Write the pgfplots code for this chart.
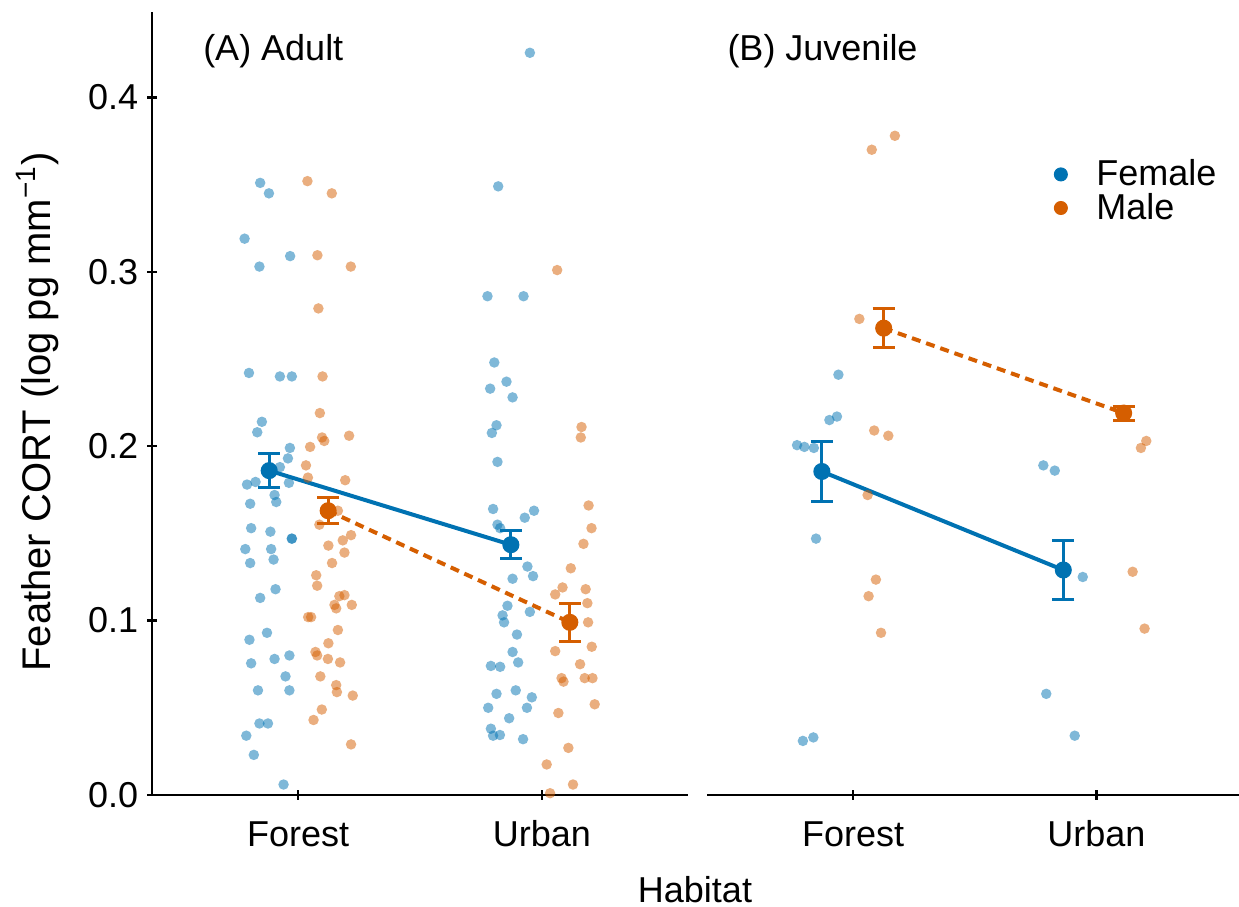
\documentclass[border=0pt]{standalone}
\usepackage{fontspec}
\setmainfont{Liberation Sans}
\usepackage{pgfplots}
\pgfplotsset{compat=1.18}
\definecolor{cblue}{HTML}{0072B2}
\definecolor{corange}{HTML}{D55E00}
\begin{document}
\begin{tikzpicture}[font=\fontsize{14.4}{17}\selectfont]
\useasboundingbox (0,0) rectangle (495.6pt,362.8pt);
\pgfplotsset{
  common/.style={
    scale only axis, anchor=south west,
    height=313.2pt,
    xmin=0.4, ymin=0, ymax=0.449,
    clip=false,
    tick style={line width=1pt, black},
    tick align=outside, major tick length=4pt,
    xtick={1,2}, xticklabels={Forest,Urban},
    xticklabel style={yshift=-4.5pt, text height=10.4pt, text depth=0pt},
    /pgf/number format/assume math mode=true,
    tick label style={font=\fontsize{14.4}{17}\selectfont},
  },
  noarrows/.style={
    axis line style={-, line width=1pt, black},
    x axis line style={-}, y axis line style={-},
    every outer x axis line/.append style={-},
    every outer y axis line/.append style={-},
    every inner x axis line/.append style={-},
    every inner y axis line/.append style={-},
  },
  pts/.style={only marks, mark=*, mark size=2.1pt, forget plot, color=#1,
    mark options={fill=#1, draw opacity=0, fill opacity=0.5}},
  meanF/.style={cblue, line width=1.6pt, mark=*, mark size=2.6pt, forget plot,
    error bars/.cd, y dir=both, y explicit,
    error bar style={line width=1.2pt},
    error mark options={rotate=90, mark size=4.4pt, line width=1.2pt}},
  meanM/.style={corange, line width=1.6pt, dash pattern=on 3.6pt off 2.4pt,
    mark=*, mark size=2.6pt, mark options={solid}, forget plot,
    error bars/.cd, y dir=both, y explicit,
    error bar style={line width=1.2pt, solid},
    error mark options={rotate=90, mark size=4.4pt, line width=1.2pt, solid}},
}
% Panel A
\begin{axis}[common, at={(60.8pt,44.8pt)}, width=214.4pt, xmax=2.6,
  axis x line=bottom, axis y line=left, noarrows,
  ytick={0,0.1,0.2,0.3,0.4}, yticklabels={0.0,0.1,0.2,0.3,0.4}]
\addplot[pts=cblue] coordinates {(0.844,0.351)(0.880,0.345)(0.780,0.319)(0.967,0.309)(0.841,0.303)(0.798,0.242)(0.925,0.240)(0.974,0.240)(0.851,0.214)(0.832,0.208)(0.966,0.199)(0.958,0.193)(0.925,0.188)(0.790,0.178)(0.825,0.1795)(0.962,0.179)(0.903,0.172)(0.910,0.168)(0.803,0.167)(0.807,0.153)(0.886,0.151)(0.974,0.147)(0.974,0.147)(0.783,0.141)(0.889,0.141)(0.803,0.133)(0.899,0.135)(0.907,0.118)(0.844,0.113)(0.872,0.093)(0.800,0.089)(0.807,0.0755)(0.903,0.078)(0.964,0.080)(0.948,0.068)(0.835,0.060)(0.964,0.060)(0.841,0.041)(0.876,0.041)(0.787,0.034)(0.818,0.023)(0.940,0.006)};
\addplot[pts=corange] coordinates {(1.038,0.352)(1.138,0.345)(1.079,0.3095)(1.216,0.303)(1.083,0.279)(1.100,0.240)(1.089,0.219)(1.098,0.205)(1.107,0.203)(1.209,0.206)(1.049,0.1996)(1.032,0.189)(1.040,0.182)(1.193,0.1805)(1.163,0.163)(1.087,0.155)(1.183,0.146)(1.217,0.149)(1.124,0.143)(1.190,0.139)(1.139,0.133)(1.074,0.126)(1.078,0.120)(1.169,0.114)(1.190,0.1146)(1.149,0.109)(1.156,0.107)(1.220,0.109)(1.041,0.102)(1.053,0.102)(1.163,0.0946)(1.124,0.087)(1.071,0.082)(1.078,0.080)(1.122,0.078)(1.172,0.076)(1.091,0.068)(1.156,0.063)(1.159,0.059)(1.224,0.057)(1.097,0.049)(1.063,0.043)(1.217,0.029)};
\addplot[pts=cblue] coordinates {(1.951,0.4256)(1.821,0.349)(1.777,0.286)(1.925,0.286)(1.805,0.248)(1.855,0.237)(1.788,0.233)(1.880,0.228)(1.814,0.212)(1.795,0.2076)(1.818,0.191)(1.800,0.164)(1.968,0.163)(1.930,0.159)(1.818,0.155)(1.829,0.153)(1.941,0.131)(1.964,0.1255)(1.880,0.124)(1.859,0.1085)(1.951,0.105)(1.839,0.103)(1.845,0.099)(1.898,0.092)(1.880,0.082)(1.903,0.076)(1.791,0.074)(1.829,0.0735)(1.814,0.058)(1.893,0.060)(1.959,0.056)(1.780,0.050)(1.939,0.050)(1.866,0.044)(1.791,0.038)(1.800,0.034)(1.828,0.0344)(1.923,0.032)};
\addplot[pts=corange] coordinates {(2.063,0.301)(2.163,0.211)(2.160,0.205)(2.192,0.166)(2.204,0.153)(2.171,0.144)(2.119,0.130)(2.085,0.119)(2.180,0.118)(2.055,0.115)(2.187,0.110)(2.190,0.099)(2.055,0.0825)(2.205,0.085)(2.157,0.075)(2.081,0.067)(2.089,0.065)(2.176,0.067)(2.208,0.067)(2.217,0.052)(2.068,0.047)(2.109,0.027)(2.020,0.0175)(2.128,0.006)(2.034,0.001)};
\addplot[meanF] coordinates {(0.881,0.186) +- (0,0.0096) (1.873,0.1435) +- (0,0.008)};
\addplot[meanM] coordinates {(1.123,0.163) +- (0,0.0075) (2.115,0.099) +- (0,0.011)};
\end{axis}
% Panel B
\begin{axis}[common, at={(282.8pt,44.8pt)}, width=212.8pt, xmax=2.586,
  axis x line=bottom, axis y line=none, noarrows, ytick=\empty,
  legend style={at={(0.652,0.8186)}, anchor=north west, draw=none, fill=none,
    inner sep=0pt, row sep=-2.5pt, column sep=9.6pt, font=\fontsize{14.4}{17}\selectfont},
  legend cell align=left]
\addplot[pts=cblue] coordinates {(0.940,0.241)(0.903,0.215)(0.934,0.217)(0.770,0.2006)(0.800,0.1996)(0.839,0.199)(0.848,0.147)(0.794,0.031)(0.837,0.033)};
\addplot[pts=corange] coordinates {(1.172,0.378)(1.077,0.370)(1.026,0.273)(1.087,0.209)(1.145,0.206)(1.060,0.172)(1.094,0.1235)(1.064,0.114)(1.115,0.093)};
\addplot[pts=cblue] coordinates {(1.782,0.189)(1.829,0.186)(1.944,0.125)(1.794,0.058)(1.911,0.034)};
\addplot[pts=corange] coordinates {(2.205,0.203)(2.183,0.199)(2.149,0.128)(2.198,0.0954)};
\addplot[meanF] coordinates {(0.872,0.1855) +- (0,0.017) (1.864,0.129) +- (0,0.0167)};
\addplot[meanM] coordinates {(1.126,0.2677) +- (0,0.0112) (2.112,0.219) +- (0,0.004)};
\addlegendimage{only marks, mark=*, mark size=2.6pt, cblue}
\addlegendentry{Female}
\addlegendimage{only marks, mark=*, mark size=2.6pt, corange}
\addlegendentry{Male}
\end{axis}
% Titles and labels
\node[anchor=base west, inner sep=0pt] at (81.1pt,338.4pt) {(A) Adult};
\node[anchor=base west, inner sep=0pt] at (290.8pt,338.4pt) {(B) Juvenile};
\node[rotate=90, anchor=center, inner sep=0pt, font=\fontsize{16}{19}\selectfont] at (15pt,198pt) {Feather CORT (log pg mm\textsuperscript{−1})};
\node[anchor=base, inner sep=0pt] at (278pt,1.6pt) {Habitat};
\end{tikzpicture}
\end{document}
